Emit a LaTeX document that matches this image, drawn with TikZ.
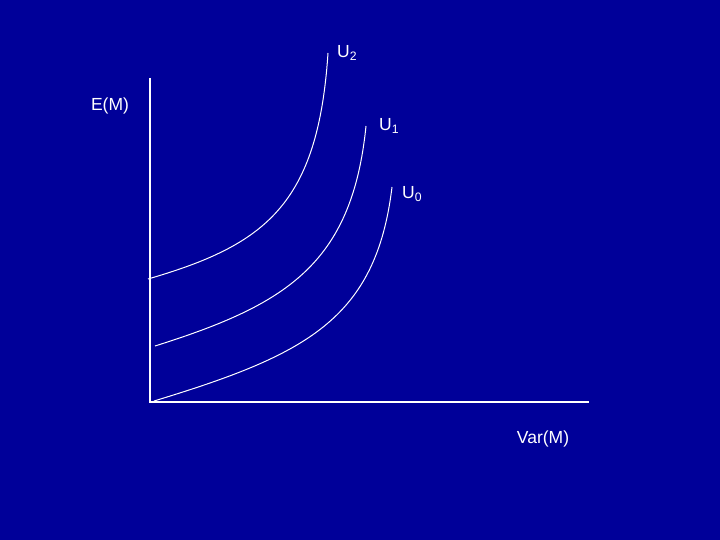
\documentclass[tikz,border=0pt]{standalone}
\usepackage{fontspec}
\setmainfont{Liberation Sans}
\definecolor{bg}{RGB}{0,0,153}
\begin{document}
\begin{tikzpicture}[x=1pt,y=-1pt,
  ax/.style={draw=white,line width=1.2pt},
  curve/.style={draw=white,line width=1pt},
  lbl/.style={text=white,font=\fontsize{17.5}{20}\selectfont,inner sep=0pt}]
\fill[bg] (0,0) rectangle (720,540);
\useasboundingbox (0,0) rectangle (720,540);
\coordinate (o) at (150,402);
\coordinate (ytop) at (150,78);
\coordinate (xend) at (589,402);
\draw[ax] (ytop) -- (o) -- (xend);
% curves
\coordinate (a2) at (148,279); \coordinate (b2) at (328,53);
\coordinate (a1) at (155,346); \coordinate (b1) at (366,126);
\coordinate (a0) at (154,401); \coordinate (b0) at (392,187);
\draw[curve] (a2) .. controls (265,245) and (318,205) .. (b2);
\draw[curve] (a1) .. controls (285,305) and (352,265) .. (b1);
\draw[curve] (a0) .. controls (305,355) and (376,320) .. (b0);
\node[lbl,anchor=west] (u2) at (337,53) {U\textsubscript{2}};
\node[lbl,anchor=west] (u1) at (379,126) {U\textsubscript{1}};
\node[lbl,anchor=west] (u0) at (402,194) {U\textsubscript{0}};
\node[lbl] (em) at (110,106) {E(M)};
\node[lbl] (vm) at (543,439) {Var(M)};
\end{tikzpicture}
\end{document}
